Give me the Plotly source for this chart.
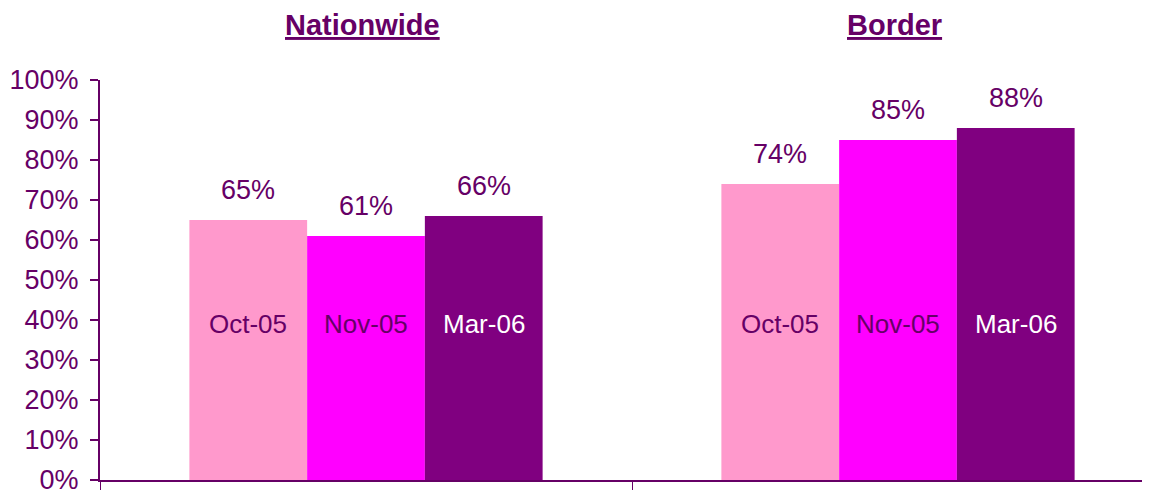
import plotly.graph_objects as go

groups = ["Nationwide", "Border"]
periods = ["Oct-05", "Nov-05", "Mar-06"]
values = {
    "Oct-05": [0.65, 0.74],
    "Nov-05": [0.61, 0.85],
    "Mar-06": [0.66, 0.88],
}
colors = {"Oct-05": "#FF99CC", "Nov-05": "#FF00FF", "Mar-06": "#800080"}
inner_text_colors = {"Oct-05": "#660066", "Nov-05": "#660066", "Mar-06": "#FFFFFF"}
label_level = 0.39

DARK = "#660066"
FONT = "Liberation Sans, Arial, sans-serif"
bargap = 0.336
bar_w = (1 - bargap) / len(periods)

xs = list(range(len(groups)))
fig = go.Figure()
annotations = []
for i, p in enumerate(periods):
    fig.add_trace(go.Bar(
        x=xs, y=values[p], name=p, marker=dict(color=colors[p], line=dict(width=0)),
        showlegend=False, hoverinfo="skip",
    ))
    off = (i - (len(periods) - 1) / 2) * bar_w
    for gi, v in zip(xs, values[p]):
        annotations.append(dict(
            x=gi + off, y=v, xref="x", yref="y", text=f"{round(v*100)}%",
            showarrow=False, yanchor="middle", yshift=30,
            font=dict(family=FONT, size=27, color=DARK),
        ))
        annotations.append(dict(
            x=gi + off, y=label_level, xref="x", yref="y", text=p,
            showarrow=False, yanchor="middle",
            font=dict(family=FONT, size=26, color=inner_text_colors[p]),
        ))

for gi, g in zip(xs, groups):
    annotations.append(dict(
        x=gi, y=1, xref="x", yref="paper", yshift=55, xshift=-4, text=f"<u><b>{g}</b></u>",
        showarrow=False, yanchor="middle",
        font=dict(family=FONT, size=29, color=DARK),
    ))

fig.update_layout(
    width=1150, height=490,
    margin=dict(l=92, r=8, t=72, b=18, autoexpand=False),
    paper_bgcolor="white", plot_bgcolor="white",
    barmode="group", bargap=bargap, bargroupgap=0,
    annotations=annotations,
    font=dict(family=FONT, color=DARK),
    xaxis=dict(
        range=[-0.5, -0.5 + 1050 / 532], tickmode="array", tickvals=[-0.5, 0.5],
        ticktext=["", ""], ticks="outside", ticklen=8, tickcolor=DARK, tickwidth=1,
        showline=True, linecolor=DARK, linewidth=2, showgrid=False, zeroline=False,
        fixedrange=True, automargin=False,
    ),
    yaxis=dict(
        range=[0, 1], dtick=0.1, tickformat=".0%", ticks="outside", ticklen=8,
        tickcolor=DARK, tickwidth=2, showline=True, linecolor=DARK, linewidth=2,
        showgrid=False, zeroline=False, ticklabelstandoff=6,
        ticklabeloverflow="allow", automargin=False,
        tickfont=dict(family=FONT, size=27, color=DARK),
    ),
)

fig.write_html("out.html")
